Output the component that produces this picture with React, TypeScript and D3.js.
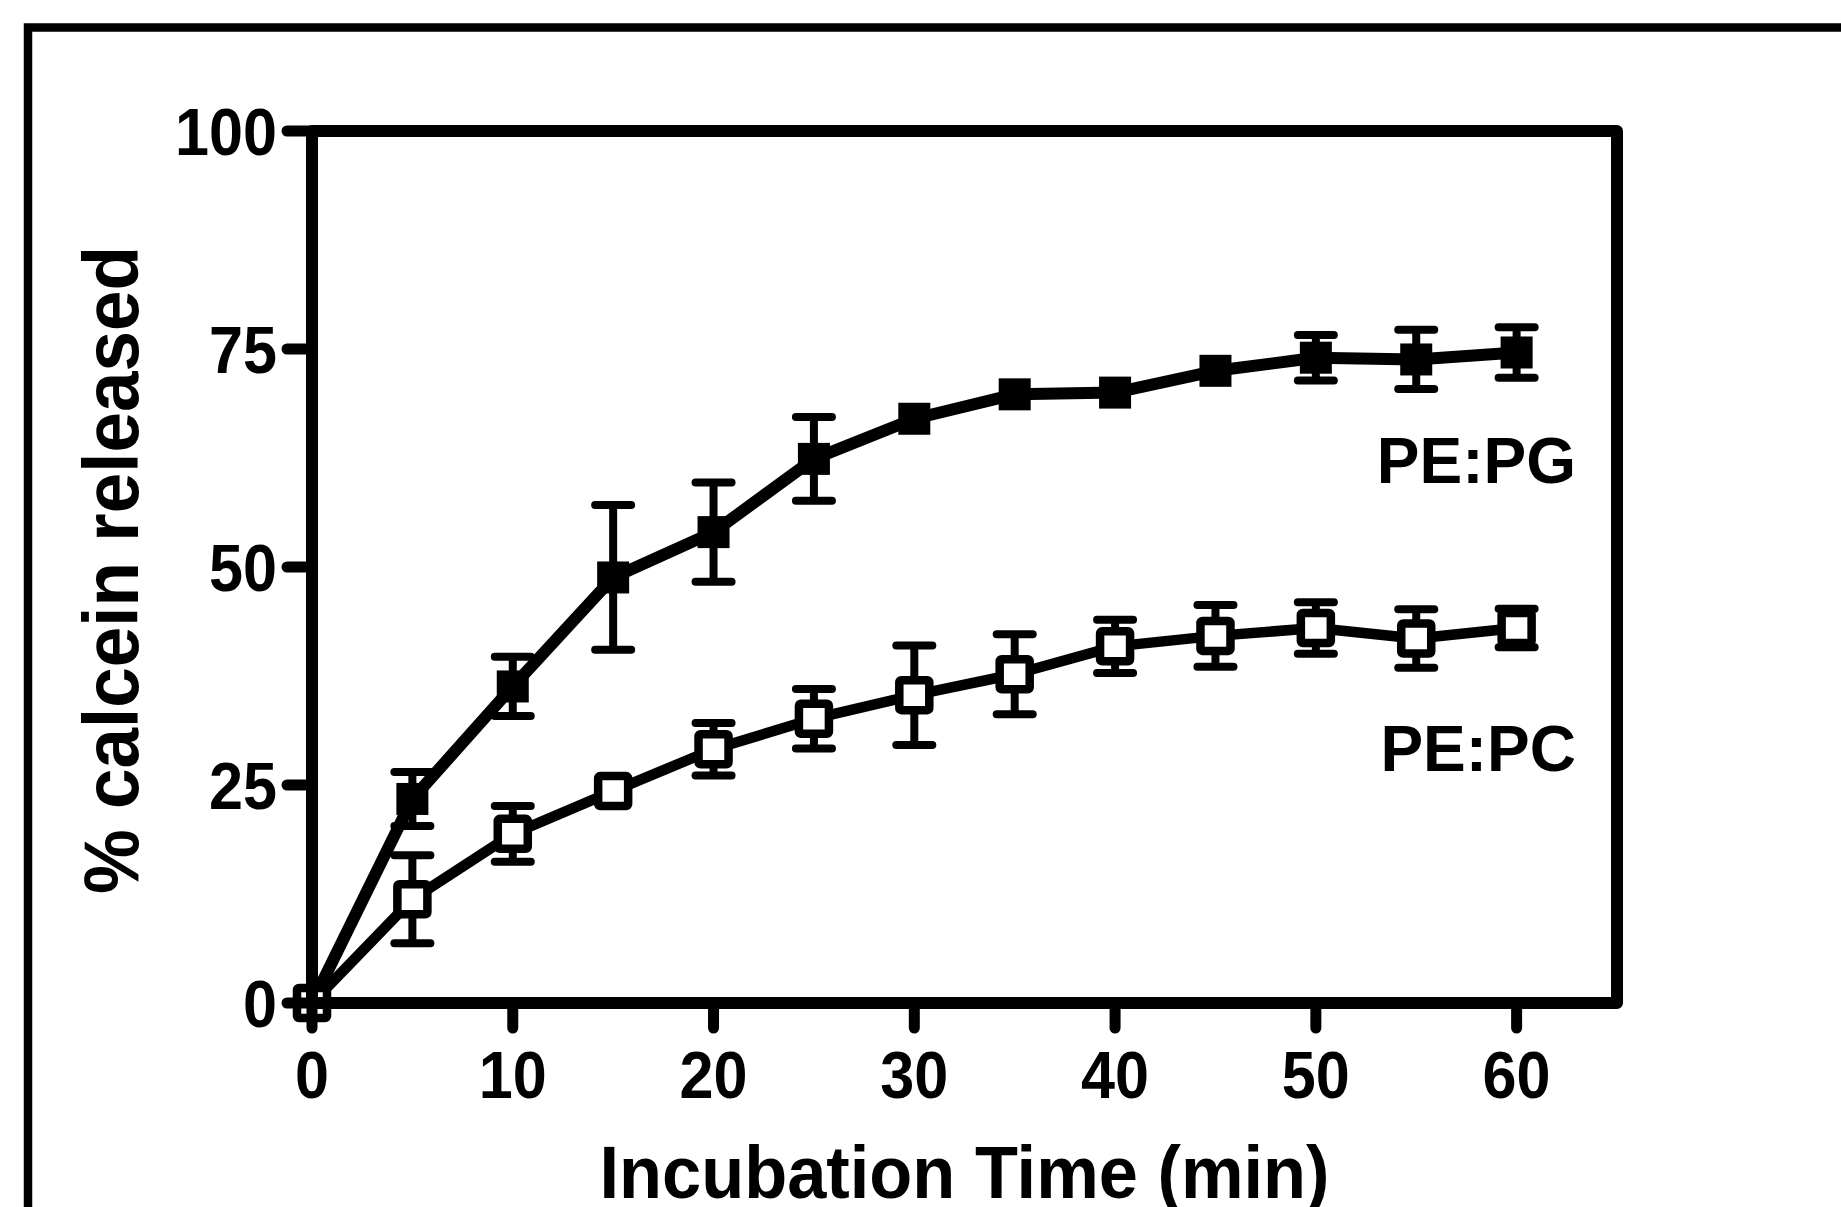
import React from "react";
import * as d3 from "d3";

const times = [0, 5, 10, 15, 20, 25, 30, 35, 40, 45, 50, 55, 60];
const pgMean = [0, 23.4, 36.3, 48.8, 54.0, 62.4, 67.0, 69.8, 70.0, 72.5, 74.0, 73.8, 74.6];
const pgErr = [0, 3.1, 3.4, 8.3, 5.7, 4.8, 0, 0, 0, 0, 2.6, 3.4, 2.9];
const pcMean = [0, 11.9, 19.4, 24.3, 29.1, 32.6, 35.3, 37.7, 40.9, 42.1, 43.0, 41.8, 43.0];
const pcErr = [0, 5.05, 3.2, 0, 3.0, 3.4, 5.7, 4.6, 3.05, 3.55, 2.95, 3.35, 2.2];
const xTicks = [0, 10, 20, 30, 40, 50, 60];
const yTicks = [0, 25, 50, 75, 100];
const seriesLabels = ["PE:PG", "PE:PC"];
const xTitle = "Incubation Time (min)";
const yTitle = "% calcein released";

const W = 1841;
const H = 1207;
const FONT = "'Liberation Sans', Arial, Helvetica, sans-serif";

export default function App() {
  const x = d3.scaleLinear().domain([0, 65]).range([312, 1617]);
  const y = d3.scaleLinear().domain([0, 100]).range([1003, 131]);

  const line = d3
    .line<number>()
    .x((_, i) => x(times[i]))
    .y((v) => y(v));

  const errorBars = (mean: number[], err: number[], key: string) =>
    mean.map((m, i) => {
      if (!err[i]) return null;
      const cx = x(times[i]);
      const y1 = y(m + err[i]);
      const y2 = y(m - err[i]);
      return (
        <g key={key + i} stroke="#000" strokeWidth={8} strokeLinecap="round">
          <line x1={cx} x2={cx} y1={y1} y2={y2} strokeLinecap="butt" />
          <line x1={cx - 18} x2={cx + 18} y1={y1} y2={y1} />
          <line x1={cx - 18} x2={cx + 18} y1={y2} y2={y2} />
        </g>
      );
    });

  const [x0, x1] = x.range();
  const [yb, yt] = y.range();

  return (
    <svg
      width={W}
      height={H}
      viewBox={`0 0 ${W} ${H}`}
      style={{ position: "absolute", left: 0, top: 0, display: "block", background: "#fff" }}
    >
      <rect x={0} y={0} width={W} height={H} fill="#fff" />
      {/* outer frame */}
      <rect x={28} y={27.5} width={2400} height={2400} fill="none" stroke="#000" strokeWidth={8.5} />

      {/* PE:PG series */}
      <path d={line(pgMean) || ""} fill="none" stroke="#000" strokeWidth={12} strokeLinejoin="round" />
      {errorBars(pgMean, pgErr, "pg")}
      {pgMean.map((m, i) => (
        <rect key={"pgm" + i} x={x(times[i]) - 16} y={y(m) - 16} width={32} height={32} fill="#000" />
      ))}

      {/* PE:PC series */}
      <path d={line(pcMean) || ""} fill="none" stroke="#000" strokeWidth={10.5} strokeLinejoin="round" />
      {errorBars(pcMean, pcErr, "pc")}
      {pcMean.map((m, i) => (
        <rect
          key={"pcm" + i}
          x={x(times[i]) - 15}
          y={y(m) - 15}
          width={30}
          height={30}
          fill="#fff"
          stroke="#000"
          strokeWidth={8.5}
          rx={2}
        />
      ))}

      {/* axes box */}
      <path
        d={`M${x0},${yt} L${x1},${yt} L${x1},${yb} L${x0},${yb} Z`}
        fill="none"
        stroke="#000"
        strokeWidth={12}
        strokeLinejoin="round"
      />
      {yTicks.map((t) => (
        <line key={"yt" + t} x1={x0} x2={x0 - 25} y1={y(t)} y2={y(t)} stroke="#000" strokeWidth={11} strokeLinecap="round" />
      ))}
      {xTicks.map((t) => (
        <line key={"xt" + t} x1={x(t)} x2={x(t)} y1={yb} y2={yb + 25} stroke="#000" strokeWidth={11} strokeLinecap="round" />
      ))}

      {/* tick labels */}
      {yTicks.map((t) => {
        const s = String(t);
        return (
          <text
            key={"yl" + t}
            x={277}
            y={y(t) + 23.5}
            textAnchor="end"
            fontFamily={FONT}
            fontWeight="bold"
            fontSize={66}
            textLength={s.length * 34}
            lengthAdjust="spacingAndGlyphs"
          >
            {s}
          </text>
        );
      })}
      {xTicks.map((t) => {
        const s = String(t);
        return (
          <text
            key={"xl" + t}
            x={x(t)}
            y={1098}
            textAnchor="middle"
            fontFamily={FONT}
            fontWeight="bold"
            fontSize={66}
            textLength={s.length * 34}
            lengthAdjust="spacingAndGlyphs"
          >
            {s}
          </text>
        );
      })}

      {/* series labels */}
      <text x={1576} y={483} textAnchor="end" fontFamily={FONT} fontWeight="bold" fontSize={64}>
        {seriesLabels[0]}
      </text>
      <text x={1576} y={771} textAnchor="end" fontFamily={FONT} fontWeight="bold" fontSize={64}>
        {seriesLabels[1]}
      </text>

      {/* axis titles */}
      <text
        x={(x0 + x1) / 2}
        y={1198}
        textAnchor="middle"
        fontFamily={FONT}
        fontWeight="bold"
        fontSize={75}
        textLength={730}
        lengthAdjust="spacingAndGlyphs"
      >
        {xTitle}
      </text>
      <text
        transform={`translate(138, ${(yb + yt) / 2 + 3}) rotate(-90)`}
        textAnchor="middle"
        fontFamily={FONT}
        fontWeight="bold"
        fontSize={77}
        textLength={648}
        lengthAdjust="spacingAndGlyphs"
      >
        {yTitle}
      </text>
    </svg>
  );
}
